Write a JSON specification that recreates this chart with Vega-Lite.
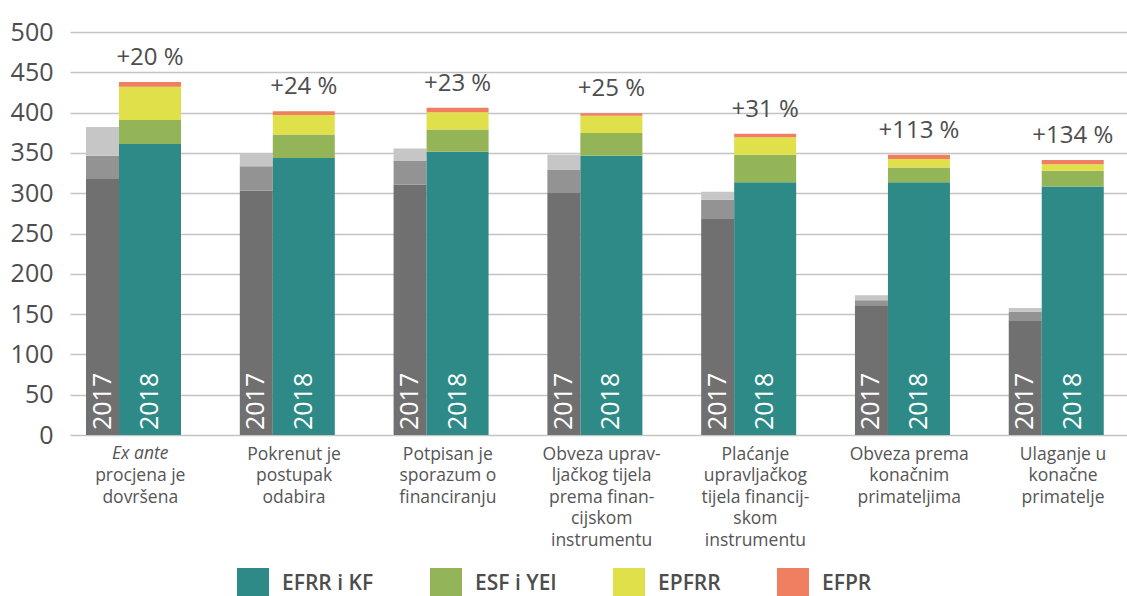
{
  "$schema": "https://vega.github.io/schema/vega-lite/v6.json",
  "autosize": {"type": "none"},
  "padding": {"left": 70, "top": 32, "right": 0, "bottom": 161},
  "width": 1057,
  "height": 403,
  "background": "white",
  "config": {
    "font": "Open Sans",
    "view": {"stroke": null},
    "axis": {"labelFont": "Open Sans", "labelColor": "#4d4d4d"},
    "legend": {"labelFont": "Open Sans"}
  },
  "datasets": {
    "pct": [
      {"category": "Ex ante|procjena je|dovršena", "pct": "+20 %"},
      {"category": "Pokrenut je|postupak|odabira", "pct": "+24 %"},
      {"category": "Potpisan je|sporazum o|financiranju", "pct": "+23 %"},
      {"category": "Obveza uprav-|ljačkog tijela|prema finan-|cijskom|instrumentu", "pct": "+25 %"},
      {"category": "Plaćanje|upravljačkog|tijela financij-|skom|instrumentu", "pct": "+31 %"},
      {"category": "Obveza prema|konačnim|primateljima", "pct": "+113 %"},
      {"category": "Ulaganje u|konačne|primatelje", "pct": "+134 %"}
    ],
    "italic": [
      {"category": "Ex ante|procjena je|dovršena", "text": "Ex ante"}
    ],
    "main": [
      {"category": "Ex ante|procjena je|dovršena", "year": "2017", "fund": "EFRR i KF", "ord": 1, "value": 317.5},
      {"category": "Ex ante|procjena je|dovršena", "year": "2017", "fund": "ESF i YEI", "ord": 2, "value": 29},
      {"category": "Ex ante|procjena je|dovršena", "year": "2017", "fund": "EPFRR", "ord": 3, "value": 35.5},
      {"category": "Ex ante|procjena je|dovršena", "year": "2018", "fund": "EFRR i KF", "ord": 1, "value": 361},
      {"category": "Ex ante|procjena je|dovršena", "year": "2018", "fund": "ESF i YEI", "ord": 2, "value": 29.7},
      {"category": "Ex ante|procjena je|dovršena", "year": "2018", "fund": "EPFRR", "ord": 3, "value": 41.3},
      {"category": "Ex ante|procjena je|dovršena", "year": "2018", "fund": "EFPR", "ord": 4, "value": 5.9},

      {"category": "Pokrenut je|postupak|odabira", "year": "2017", "fund": "EFRR i KF", "ord": 1, "value": 303},
      {"category": "Pokrenut je|postupak|odabira", "year": "2017", "fund": "ESF i YEI", "ord": 2, "value": 30.3},
      {"category": "Pokrenut je|postupak|odabira", "year": "2017", "fund": "EPFRR", "ord": 3, "value": 16.7},
      {"category": "Pokrenut je|postupak|odabira", "year": "2018", "fund": "EFRR i KF", "ord": 1, "value": 343.8},
      {"category": "Pokrenut je|postupak|odabira", "year": "2018", "fund": "ESF i YEI", "ord": 2, "value": 28.9},
      {"category": "Pokrenut je|postupak|odabira", "year": "2018", "fund": "EPFRR", "ord": 3, "value": 24.3},
      {"category": "Pokrenut je|postupak|odabira", "year": "2018", "fund": "EFPR", "ord": 4, "value": 4.8},

      {"category": "Potpisan je|sporazum o|financiranju", "year": "2017", "fund": "EFRR i KF", "ord": 1, "value": 310.9},
      {"category": "Potpisan je|sporazum o|financiranju", "year": "2017", "fund": "ESF i YEI", "ord": 2, "value": 29},
      {"category": "Potpisan je|sporazum o|financiranju", "year": "2017", "fund": "EPFRR", "ord": 3, "value": 15.7},
      {"category": "Potpisan je|sporazum o|financiranju", "year": "2018", "fund": "EFRR i KF", "ord": 1, "value": 351.4},
      {"category": "Potpisan je|sporazum o|financiranju", "year": "2018", "fund": "ESF i YEI", "ord": 2, "value": 27.6},
      {"category": "Potpisan je|sporazum o|financiranju", "year": "2018", "fund": "EPFRR", "ord": 3, "value": 21.4},
      {"category": "Potpisan je|sporazum o|financiranju", "year": "2018", "fund": "EFPR", "ord": 4, "value": 5.6},

      {"category": "Obveza uprav-|ljačkog tijela|prema finan-|cijskom|instrumentu", "year": "2017", "fund": "EFRR i KF", "ord": 1, "value": 300.4},
      {"category": "Obveza uprav-|ljačkog tijela|prema finan-|cijskom|instrumentu", "year": "2017", "fund": "ESF i YEI", "ord": 2, "value": 28.9},
      {"category": "Obveza uprav-|ljačkog tijela|prema finan-|cijskom|instrumentu", "year": "2017", "fund": "EPFRR", "ord": 3, "value": 18.5},
      {"category": "Obveza uprav-|ljačkog tijela|prema finan-|cijskom|instrumentu", "year": "2018", "fund": "EFRR i KF", "ord": 1, "value": 346.4},
      {"category": "Obveza uprav-|ljačkog tijela|prema finan-|cijskom|instrumentu", "year": "2018", "fund": "ESF i YEI", "ord": 2, "value": 28.4},
      {"category": "Obveza uprav-|ljačkog tijela|prema finan-|cijskom|instrumentu", "year": "2018", "fund": "EPFRR", "ord": 3, "value": 21.2},
      {"category": "Obveza uprav-|ljačkog tijela|prema finan-|cijskom|instrumentu", "year": "2018", "fund": "EFPR", "ord": 4, "value": 3.3},

      {"category": "Plaćanje|upravljačkog|tijela financij-|skom|instrumentu", "year": "2017", "fund": "EFRR i KF", "ord": 1, "value": 269},
      {"category": "Plaćanje|upravljačkog|tijela financij-|skom|instrumentu", "year": "2017", "fund": "ESF i YEI", "ord": 2, "value": 22.9},
      {"category": "Plaćanje|upravljačkog|tijela financij-|skom|instrumentu", "year": "2017", "fund": "EPFRR", "ord": 3, "value": 9.8},
      {"category": "Plaćanje|upravljačkog|tijela financij-|skom|instrumentu", "year": "2018", "fund": "EFRR i KF", "ord": 1, "value": 313.6},
      {"category": "Plaćanje|upravljačkog|tijela financij-|skom|instrumentu", "year": "2018", "fund": "ESF i YEI", "ord": 2, "value": 34.2},
      {"category": "Plaćanje|upravljačkog|tijela financij-|skom|instrumentu", "year": "2018", "fund": "EPFRR", "ord": 3, "value": 21.7},
      {"category": "Plaćanje|upravljačkog|tijela financij-|skom|instrumentu", "year": "2018", "fund": "EFPR", "ord": 4, "value": 4.3},

      {"category": "Obveza prema|konačnim|primateljima", "year": "2017", "fund": "EFRR i KF", "ord": 1, "value": 160},
      {"category": "Obveza prema|konačnim|primateljima", "year": "2017", "fund": "ESF i YEI", "ord": 2, "value": 7.3},
      {"category": "Obveza prema|konačnim|primateljima", "year": "2017", "fund": "EPFRR", "ord": 3, "value": 6.1},
      {"category": "Obveza prema|konačnim|primateljima", "year": "2018", "fund": "EFRR i KF", "ord": 1, "value": 313.6},
      {"category": "Obveza prema|konačnim|primateljima", "year": "2018", "fund": "ESF i YEI", "ord": 2, "value": 18.4},
      {"category": "Obveza prema|konačnim|primateljima", "year": "2018", "fund": "EPFRR", "ord": 3, "value": 10.5},
      {"category": "Obveza prema|konačnim|primateljima", "year": "2018", "fund": "EFPR", "ord": 4, "value": 5.3},

      {"category": "Ulaganje u|konačne|primatelje", "year": "2017", "fund": "EFRR i KF", "ord": 1, "value": 142.5},
      {"category": "Ulaganje u|konačne|primatelje", "year": "2017", "fund": "ESF i YEI", "ord": 2, "value": 10.3},
      {"category": "Ulaganje u|konačne|primatelje", "year": "2017", "fund": "EPFRR", "ord": 3, "value": 4.8},
      {"category": "Ulaganje u|konačne|primatelje", "year": "2018", "fund": "EFRR i KF", "ord": 1, "value": 308.3},
      {"category": "Ulaganje u|konačne|primatelje", "year": "2018", "fund": "ESF i YEI", "ord": 2, "value": 19.7},
      {"category": "Ulaganje u|konačne|primatelje", "year": "2018", "fund": "EPFRR", "ord": 3, "value": 8},
      {"category": "Ulaganje u|konačne|primatelje", "year": "2018", "fund": "EFPR", "ord": 4, "value": 5.2}
    ]
  },
  "data": {"name": "main"},
  "encoding": {
    "x": {
      "field": "category",
      "type": "nominal",
      "scale": {
        "domain": [
          "Ex ante|procjena je|dovršena",
          "Pokrenut je|postupak|odabira",
          "Potpisan je|sporazum o|financiranju",
          "Obveza uprav-|ljačkog tijela|prema finan-|cijskom|instrumentu",
          "Plaćanje|upravljačkog|tijela financij-|skom|instrumentu",
          "Obveza prema|konačnim|primateljima",
          "Ulaganje u|konačne|primatelje"
        ],
        "paddingInner": 0.2,
        "paddingOuter": 0.0365,
        "align": 0.78,
        "round": false
      },
      "axis": {
        "title": null,
        "domain": false,
        "ticks": false,
        "labelAngle": 0,
        "labelFontSize": 17.5,
        "labelLineHeight": 21.5,
        "labelPadding": 10,
        "labelBaseline": "top",
        "labelLimit": 300,
        "labelColor": "#555555",
        "labelExpr": "split(replace(datum.label, 'Ex ante', ' '), '|')"
      }
    }
  },
  "layer": [
    {
      "transform": [{"filter": "datum.year == '2017'"}],
      "mark": {"type": "bar", "width": 33},
      "encoding": {
        "xOffset": {"field": "year", "type": "nominal", "scale": {"domain": ["2017", "2018"], "paddingInner": 0, "paddingOuter": 0.295, "align": 0, "round": false}},
        "y": {
          "field": "value", "type": "quantitative", "aggregate": "sum", "stack": "zero",
          "scale": {"domain": [0, 500]},
          "axis": {
            "title": null, "domain": false, "ticks": false,
            "values": [0, 50, 100, 150, 200, 250, 300, 350, 400, 450, 500],
            "labelFontSize": 25, "labelPadding": 17, "labelColor": "#4d4d4d",
            "gridColor": "#c4c4c4", "gridWidth": 1.6
          }
        },
        "color": {
          "field": "fund", "type": "nominal",
          "scale": {"domain": ["EFRR i KF", "ESF i YEI", "EPFRR"], "range": ["#707070", "#939393", "#c6c6c6"]},
          "legend": null
        },
        "order": {"field": "ord", "type": "quantitative"}
      }
    },
    {
      "transform": [{"filter": "datum.year == '2018'"}],
      "mark": {"type": "bar", "width": 62},
      "encoding": {
        "xOffset": {"field": "year", "type": "nominal"},
        "y": {"field": "value", "type": "quantitative", "aggregate": "sum", "stack": "zero"},
        "color": {
          "field": "fund", "type": "nominal",
          "scale": {"domain": ["EFRR i KF", "ESF i YEI", "EPFRR", "EFPR"], "range": ["#2e8a86", "#94b557", "#dfe04a", "#f07e60"]},
          "legend": {
            "title": null,
            "orient": "none",
            "direction": "horizontal",
            "legendX": 167,
            "legendY": 536,
            "padding": 0,
            "symbolType": "square",
            "symbolSize": 1024,
            "symbolStrokeWidth": 0,
            "symbolOpacity": 1,
            "labelFontSize": 21,
            "labelFontWeight": 600,
            "labelColor": "#4d4d4d",
            "labelOffset": 13,
            "columnPadding": 56
          }
        },
        "order": {"field": "ord", "type": "quantitative"}
      }
    },
    {
      "transform": [{"filter": "datum.ord == 1"}],
      "mark": {"type": "text", "angle": 270, "align": "left", "baseline": "middle", "dx": 5, "fontSize": 25, "color": "white"},
      "encoding": {
        "xOffset": {"field": "year", "type": "nominal"},
        "y": {"datum": 0},
        "text": {"field": "year", "type": "nominal"}
      }
    },
    {
      "transform": [
        {"filter": "datum.year == '2018'"},
        {"aggregate": [{"op": "sum", "field": "value", "as": "total"}], "groupby": ["category", "year"]},
        {"lookup": "category", "from": {"data": {"name": "pct"}, "key": "category", "fields": ["pct"]}}
      ],
      "mark": {"type": "text", "baseline": "bottom", "dy": -12, "fontSize": 24, "color": "#4d4d4d"},
      "encoding": {
        "xOffset": {"field": "year", "type": "nominal"},
        "y": {"field": "total", "type": "quantitative"},
        "text": {"field": "pct", "type": "nominal"}
      }
    },
    {
      "data": {"name": "italic"},
      "mark": {"type": "text", "baseline": "top", "dy": 10, "fontSize": 17.5, "fontStyle": "italic", "color": "#555555"},
      "encoding": {
        "y": {"datum": 0},
        "text": {"field": "text", "type": "nominal"}
      }
    }
  ],
  "resolve": {"scale": {"color": "independent"}}
}
